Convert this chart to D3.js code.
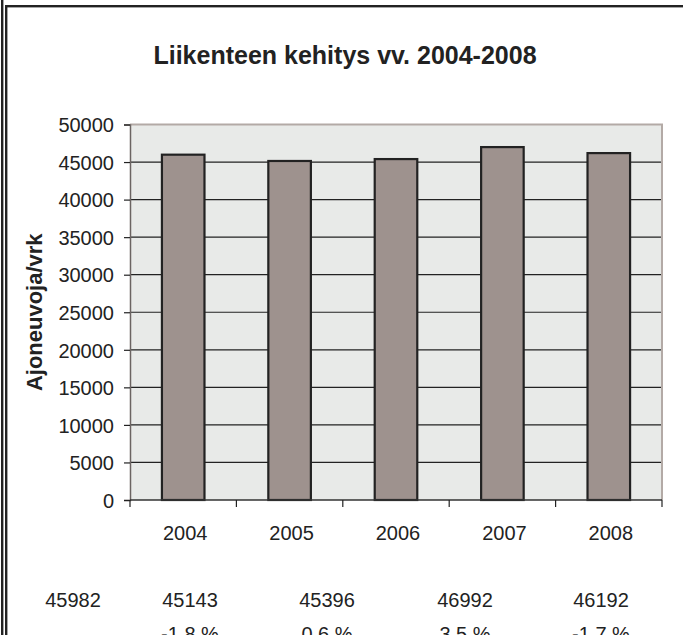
<!DOCTYPE html>
<html>
<head>
<meta charset="utf-8">
<script src="https://cdn.jsdelivr.net/npm/d3@7"></script>
<style>
  body { margin: 0; background: #fff; }
  svg { display: block; font-family: "Liberation Sans", Arial, sans-serif; }
</style>
</head>
<body>
<div id="chart"></div>
<script>
// data
const years = ["2004", "2005", "2006", "2007", "2008"];
const traffic = [45982, 45143, 45396, 46992, 46192];
const changes = ["", "-1.8 %", "0.6 %", "3.5 %", "-1.7 %"];
const yTicks = [0, 5000, 10000, 15000, 20000, 25000, 30000, 35000, 40000, 45000, 50000];

const W = 683, H = 635;
const plot = { left: 130, right: 662, top: 124.5, bottom: 500 };

const svg = d3.select("#chart")
    .append("svg")
    .attr("width", W)
    .attr("height", H);

// page frame (double line on left, line on top)
svg.append("rect").attr("x", 1).attr("y", 0).attr("width", 2.4).attr("height", H).attr("fill", "#222");
svg.append("rect").attr("x", 5).attr("y", 5).attr("width", 2.4).attr("height", H - 5).attr("fill", "#222");
svg.append("rect").attr("x", 5).attr("y", 5).attr("width", W - 5).attr("height", 2.4).attr("fill", "#222");

// title
svg.append("text")
    .attr("x", 345)
    .attr("y", 64)
    .attr("text-anchor", "middle")
    .attr("font-size", 25)
    .attr("font-weight", "bold")
    .attr("fill", "#222")
    .text("Liikenteen kehitys vv. 2004-2008");

// scales
const x = d3.scaleBand()
    .domain(years)
    .range([plot.left, plot.right])
    .paddingInner(0.6)
    .paddingOuter(0.3);

const y = d3.scaleLinear()
    .domain([0, 50000])
    .range([plot.bottom, plot.top]);

// plot area
svg.append("rect")
    .attr("x", plot.left)
    .attr("y", plot.top)
    .attr("width", plot.right - plot.left)
    .attr("height", plot.bottom - plot.top)
    .attr("fill", "#e8eae8")
    .attr("stroke", "none");

// gridlines
svg.append("g")
    .selectAll("line")
    .data(yTicks.filter(d => d > 0 && d < 50000))
    .join("line")
    .attr("x1", plot.left)
    .attr("x2", plot.right)
    .attr("y1", d => y(d))
    .attr("y2", d => y(d))
    .attr("stroke", "#222")
    .attr("stroke-width", 1.2);

// top and right border
svg.append("path")
    .attr("d", `M${plot.left},${plot.top}H${plot.right}V${plot.bottom}`)
    .attr("fill", "none")
    .attr("stroke", "#b3aaa6")
    .attr("stroke-width", 2);

// bars
svg.append("g")
    .selectAll("rect")
    .data(traffic)
    .join("rect")
    .attr("x", (d, i) => x(years[i]))
    .attr("y", d => y(d))
    .attr("width", x.bandwidth())
    .attr("height", d => y(0) - y(d))
    .attr("fill", "#9e928e")
    .attr("stroke", "#222")
    .attr("stroke-width", 2.2);

// y axis
const yAxis = svg.append("g")
    .attr("transform", `translate(${plot.left},0)`)
    .call(d3.axisLeft(y).tickValues(yTicks).tickSize(6).tickPadding(10).tickFormat(d3.format("d")));
yAxis.select(".domain").attr("stroke", "#6b6462").attr("stroke-width", 1.5);
yAxis.selectAll(".tick line").attr("stroke", "#222").attr("stroke-width", 1.2);
yAxis.selectAll(".tick text")
    .attr("font-size", 20)
    .attr("font-family", "Liberation Sans, Arial, sans-serif")
    .attr("fill", "#222")
    .attr("dy", "0.36em");

// x axis line and boundary ticks
const boundaries = d3.range(years.length + 1).map(i => plot.left + i * x.step());
svg.append("line")
    .attr("x1", plot.left).attr("x2", plot.right)
    .attr("y1", plot.bottom).attr("y2", plot.bottom)
    .attr("stroke", "#333").attr("stroke-width", 1.5);
svg.append("g")
    .selectAll("line")
    .data(boundaries)
    .join("line")
    .attr("x1", d => d).attr("x2", d => d)
    .attr("y1", plot.bottom).attr("y2", plot.bottom + 7)
    .attr("stroke", "#222").attr("stroke-width", 1.2);

// x labels
svg.append("g")
    .selectAll("text")
    .data(years)
    .join("text")
    .attr("x", d => x(d) + x.bandwidth() / 2 + 2)
    .attr("y", 540)
    .attr("text-anchor", "middle")
    .attr("font-size", 20)
    .attr("fill", "#222")
    .text(d => d);

// y axis title
svg.append("text")
    .attr("transform", `translate(42,${(plot.top + plot.bottom) / 2}) rotate(-90)`)
    .attr("text-anchor", "middle")
    .attr("font-size", 22)
    .attr("font-weight", "bold")
    .attr("fill", "#222")
    .text("Ajoneuvoja/vrk");

// value table under the chart (last row is cut by the page edge, as in the source)
const tableX = [73, 190, 327, 465, 601];
svg.append("g")
    .selectAll("text")
    .data(traffic)
    .join("text")
    .attr("x", (d, i) => tableX[i])
    .attr("y", 607)
    .attr("text-anchor", "middle")
    .attr("font-size", 20)
    .attr("fill", "#222")
    .text(d => d);

svg.append("g")
    .selectAll("text")
    .data(changes)
    .join("text")
    .attr("x", (d, i) => tableX[i])
    .attr("y", 641)
    .attr("text-anchor", "middle")
    .attr("font-size", 20)
    .attr("fill", "#222")
    .text(d => d);
</script>
</body>
</html>
